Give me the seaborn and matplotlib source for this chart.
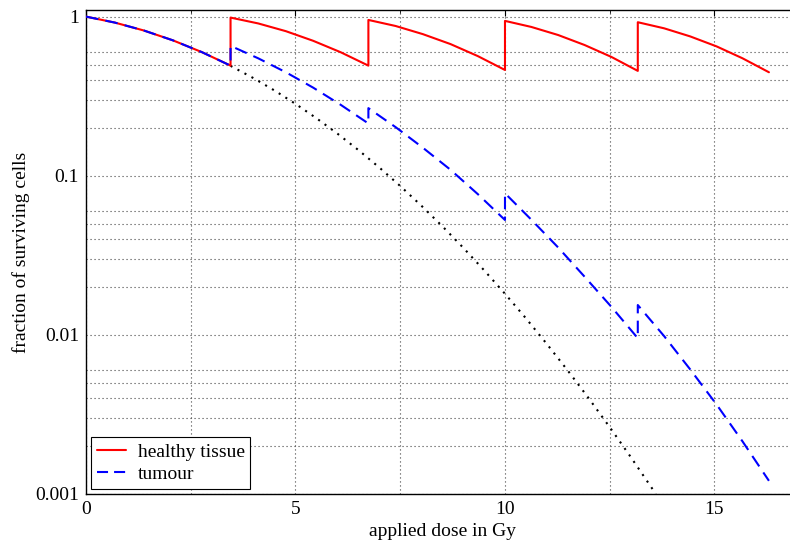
import matplotlib
matplotlib.use("Agg")
import matplotlib.pyplot as plt
import seaborn as sns
from matplotlib.ticker import FixedLocator, FixedFormatter, LogLocator, NullFormatter
from matplotlib.lines import Line2D

# ---------------- data ----------------
dose_healthy = [0.00, 0.69, 1.38, 2.07, 2.76, 3.45,
                3.45, 4.11, 4.77, 5.42, 6.08, 6.74,
                6.74, 7.39, 8.04, 8.70, 9.35, 10.00,
                10.00, 10.63, 11.27, 11.90, 12.54, 13.17,
                13.17, 13.80, 14.42, 15.05, 15.67, 16.30]
surv_healthy = [1.000, 0.917, 0.818, 0.710, 0.599, 0.492,
                0.986, 0.906, 0.810, 0.705, 0.597, 0.492,
                0.953, 0.873, 0.776, 0.672, 0.565, 0.462,
                0.940, 0.861, 0.766, 0.663, 0.558, 0.456,
                0.922, 0.844, 0.751, 0.650, 0.547, 0.447]

dose_tumour = [0.00, 0.69, 1.38, 2.07, 2.76, 3.45,
               3.45, 4.11, 4.77, 5.42, 6.08, 6.74,
               6.74, 7.39, 8.04, 8.70, 9.35, 10.00,
               10.00, 10.63, 11.27, 11.90, 12.54, 13.17,
               13.17, 13.80, 14.42, 15.05, 15.67, 16.30]
surv_tumour = [1.000, 0.917, 0.818, 0.710, 0.599, 0.492,
               0.655, 0.547, 0.447, 0.358, 0.279, 0.213,
               0.266, 0.202, 0.150, 0.109, 0.0767, 0.0527,
               0.0776, 0.0529, 0.0354, 0.0232, 0.0150, 0.00953,
               0.0154, 0.00981, 0.00607, 0.00365, 0.00214, 0.00121]

dose_single = [3.45, 4.0, 4.5, 5.0, 5.5, 6.0, 6.5, 7.0, 7.5, 8.0, 8.5,
               9.0, 9.5, 10.0, 10.5, 11.0, 11.5, 12.0, 12.5, 13.0, 13.5, 13.6]
surv_single = [0.4905, 0.4102, 0.3432, 0.2830, 0.2298, 0.1840, 0.1451,
               0.1127, 0.0862, 0.0650, 0.0483, 0.03537, 0.0255, 0.01813,
               0.01271, 0.00876, 0.00596, 0.00399, 0.00263, 0.00171,
               0.001095, 0.000999]

x_major = [0, 5, 10, 15]
x_major_labels = ["0", "5", "10", "15"]
x_minor = [2.5, 7.5, 12.5]
y_major = [0.001, 0.01, 0.1, 1]
y_major_labels = ["0.001", "0.01", "0.1", "1"]

series_labels = ["healthy tissue", "tumour"]
x_label = "applied dose in Gy"
y_label = "fraction of surviving cells"

# ---------------- style ----------------
sns.set_theme(style="white")
plt.rcParams["font.family"] = ["Liberation Serif", "DejaVu Serif"]
plt.rcParams["text.color"] = "black"
plt.rcParams["axes.labelcolor"] = "black"
plt.rcParams["xtick.color"] = "black"
plt.rcParams["ytick.color"] = "black"

fig = plt.figure(figsize=(7.9, 5.43), dpi=100)
ax = fig.add_axes([0.10886, 0.09024, 0.9016, 0.8913])
ax.set_yscale("log")

sns.lineplot(x=dose_single, y=surv_single, ax=ax, color="black",
             linestyle=(0, (1, 2.8)), linewidth=1.5, estimator=None,
             sort=False, legend=False, zorder=2)
sns.lineplot(x=dose_healthy, y=surv_healthy, ax=ax, color="#ff0000",
             linewidth=1.5, estimator=None, sort=False, legend=False, zorder=3)
sns.lineplot(x=dose_tumour, y=surv_tumour, ax=ax, color="#0000ff",
             linestyle=(0, (6, 3.5)), linewidth=1.5, estimator=None,
             sort=False, legend=False, zorder=4)

ax.set_xlim(0, 17)
ax.set_ylim(0.001, 1.1)

ax.xaxis.set_major_locator(FixedLocator(x_major))
ax.xaxis.set_major_formatter(FixedFormatter(x_major_labels))
ax.xaxis.set_minor_locator(FixedLocator(x_minor))
ax.yaxis.set_major_locator(FixedLocator(y_major))
ax.yaxis.set_major_formatter(FixedFormatter(y_major_labels))
ax.yaxis.set_minor_locator(LogLocator(base=10, subs=[2, 3, 4, 5, 6]))
ax.yaxis.set_minor_formatter(NullFormatter())

ax.set_axisbelow(True)
ax.grid(True, which="both", axis="both", color="#444444",
        linestyle=(0, (1, 2.6)), linewidth=0.8)

ax.tick_params(which="major", direction="in", length=4, width=0.8,
               labelsize=14, pad=5, top=True, right=True)
ax.tick_params(which="minor", direction="in", length=2, width=0.6,
               top=True, right=True)

for s in ax.spines.values():
    s.set_color("black")
    s.set_linewidth(1.0)
    s.set_visible(True)

ax.set_xlabel(x_label, fontsize=14, labelpad=4)
ax.set_ylabel(y_label, fontsize=14, labelpad=3.5)

handles = [Line2D([], [], color="#ff0000", linewidth=1.5),
           Line2D([], [], color="#0000ff", linewidth=1.5, linestyle=(0, (5.3, 2.9)))]
leg = ax.legend(handles, series_labels, loc="lower left", fontsize=14,
                frameon=True, fancybox=False, framealpha=1, edgecolor="black",
                borderaxespad=0.25, borderpad=0.3, handlelength=1.5,
                handletextpad=0.6, labelspacing=0.25)
leg.get_frame().set_linewidth(0.8)

fig.savefig("out.png", dpi=100)
